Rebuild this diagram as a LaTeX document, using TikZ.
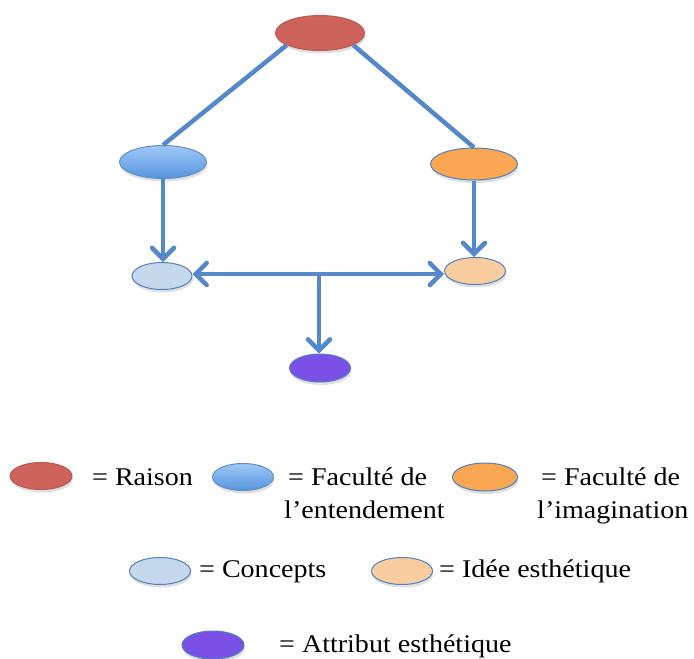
\documentclass[tikz,border=0pt]{standalone}
\usepackage{fontspec}
\setmainfont{Liberation Serif}[FakeStretch=1.1]
\usetikzlibrary{shapes.geometric,arrows.meta,shadows}
\definecolor{lnk}{RGB}{84,136,200}
\definecolor{edge}{RGB}{79,129,189}
\definecolor{raisonc}{RGB}{205,99,91}
\definecolor{entTop}{RGB}{160,200,245}
\definecolor{entBot}{RGB}{85,148,222}
\definecolor{imagc}{RGB}{250,166,82}
\definecolor{concc}{RGB}{198,216,236}
\definecolor{ideec}{RGB}{250,205,160}
\definecolor{attrc}{RGB}{122,80,230}
\tikzset{
  ov/.style={ellipse,inner sep=0pt,line width=1pt,
    drop shadow={opacity=0.25,shadow xshift=1pt,shadow yshift=-3pt}},
  raisonov/.style={ov,fill=raisonc,draw=raisonc!90!black},
  entov/.style={ov,top color=entTop,bottom color=entBot,draw=edge!90!white},
  imagov/.style={ov,fill=imagc,draw=edge},
  concov/.style={ov,fill=concc,draw=edge},
  ideeov/.style={ov,fill=ideec,draw=edge},
  attrov/.style={ov,fill=attrc,draw=edge},
  link/.style={draw=lnk,line width=4.5pt},
  arr/.style={link,-{Straight Barb[length=11pt,width=22pt,line cap=round]}},
  dblarr/.style={link,{Straight Barb[length=11pt,width=22pt,line cap=round]}-{Straight Barb[length=11pt,width=22pt,line cap=round]}},
  lab/.style={anchor=base west,inner sep=0pt,font=\fontsize{25.5}{33}\selectfont},
}
\begin{document}
\begin{tikzpicture}[x=1pt,y=-1pt]
\useasboundingbox (0,0) rectangle (694,659);
% main diagram
\node[raisonov,minimum width=89pt,minimum height=35pt] (R) at (320,33) {};
\node[entov,minimum width=87pt,minimum height=33pt] (E) at (163,162) {};
\node[imagov,minimum width=87pt,minimum height=32pt] (I) at (474,164) {};
\node[concov,minimum width=60pt,minimum height=27pt] (C) at (162,276) {};
\node[ideeov,minimum width=61pt,minimum height=27pt] (D) at (475,271) {};
\node[attrov,minimum width=61pt,minimum height=28pt] (A) at (320,368) {};
\coordinate (J) at (319,274);
\draw[link] (R.200) -- (E.north);
\draw[link] (R.340) -- (I.north);
\draw[arr] (E.south) -- (E.south |- C.north);
\draw[arr] (I.south) -- (I.south |- D.north);
\draw[dblarr] (C.east |- J) -- (D.west |- J);
\draw[arr] (J) -- (J |- A.north);
% legend
\node[raisonov,minimum width=62pt,minimum height=27pt] (lR) at (41,476) {};
\node[lab] (tR) at (92,485) {= Raison};
\node[entov,minimum width=61pt,minimum height=27pt] (lE) at (243,477) {};
\node[lab] (tE) at (288,485) {= Faculté de};
\node[lab] (tE2) at (284,518) {l’entendement};
\node[imagov,minimum width=65pt,minimum height=28pt] (lI) at (485,477) {};
\node[lab] (tI) at (541,485) {= Faculté de};
\node[lab] (tI2) at (537,518) {l’imagination};
\node[concov,minimum width=61pt,minimum height=27pt] (lC) at (160,571) {};
\node[lab] (tC) at (199,577) {= Concepts};
\node[ideeov,minimum width=61pt,minimum height=27pt] (lD) at (402,571) {};
\node[lab] (tD) at (439,577) {= Idée esthétique};
\node[attrov,minimum width=62pt,minimum height=28pt] (lA) at (213,645) {};
\node[lab] (tA) at (279,652) {= Attribut esthétique};
\end{tikzpicture}
\end{document}
